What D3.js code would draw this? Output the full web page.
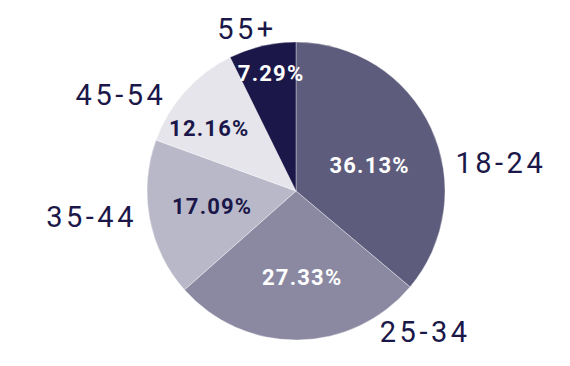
<!DOCTYPE html>
<meta charset="utf-8">
<style>
  body { margin: 0; background: #fff; font-family: Roboto, sans-serif; }
</style>
<body>
<script src="https://cdn.jsdelivr.net/npm/d3@7"></script>
<script>
  // age groups and their share of the total (percent)
  var categories = ["18-24", "25-34", "35-44", "45-54", "55+"];
  var shares = [36.13, 27.33, 17.09, 12.16, 7.29];
  var colors = ["#5e5c7c", "#8b89a2", "#b9b8c9", "#e6e5ec", "#1b1849"];
  var darkText = ["45-54", "35-44"]; // slices light enough to need dark % text

  var width = 570, height = 366;
  var cx = 296, cy = 191, R = 149;
  var navy = "#1b1849";

  // small tweaks (degrees / px) so labels sit where the original put them
  var outerNudge = { "18-24": 15, "25-34": -31, "35-44": 2, "45-54": -6, "55+": 5 };
  var pctNudge = { "18-24": [5, -8], "25-34": [-3, 0], "35-44": [1, 0], "45-54": [-6, 0], "55+": [1, 0] };

  var data = categories.map(function (c, i) { return { cat: c, value: shares[i], color: colors[i] }; });

  var svg = d3.select("body").append("svg")
    .attr("width", width)
    .attr("height", height);

  var g = svg.append("g").attr("transform", "translate(" + cx + "," + cy + ")");

  var pie = d3.pie().sort(null).value(function (d) { return d.value; });
  var arc = d3.arc().innerRadius(0).outerRadius(R);
  var arcs = pie(data);

  g.selectAll("path.slice")
    .data(arcs)
    .enter().append("path")
    .attr("class", "slice")
    .attr("d", arc)
    .attr("fill", function (d) { return d.data.color; })
    .attr("stroke", "rgba(255,255,255,0.45)")
    .attr("stroke-width", 0.8);

  // percent labels inside, pushed outward in thin slices so the text fits
  var pct = g.selectAll("text.pct")
    .data(arcs)
    .enter().append("text")
    .attr("class", "pct")
    .attr("text-anchor", "middle")
    .attr("dominant-baseline", "central")
    .style("font-size", "22px")
    .style("font-weight", "700")
    .style("letter-spacing", "1.2px")
    .attr("fill", function (d) { return darkText.indexOf(d.data.cat) >= 0 ? navy : "#fff"; })
    .text(function (d) { return d.data.value.toFixed(2) + "%"; });

  pct.each(function (d) {
    var w = this.getComputedTextLength();
    var nudge = pctNudge[d.data.cat];
    var mid = (d.startAngle + d.endAngle) / 2 + nudge[0] * Math.PI / 180;
    var half = (d.endAngle - d.startAngle) / 2;
    var r = (w / 2) / Math.sin(Math.min(half, Math.PI / 2));
    r = Math.max(0.575 * R, Math.min(0.815 * R, r)) + nudge[1];
    d3.select(this)
      .attr("x", Math.sin(mid) * r + 0.6)
      .attr("y", -Math.cos(mid) * r + 1);
  });

  // category labels outside the pie
  var outerR = R + 16;
  g.selectAll("text.cat")
    .data(arcs)
    .enter().append("text")
    .attr("class", "cat")
    .attr("dominant-baseline", "central")
    .style("font-size", "29px")
    .style("letter-spacing", "3.5px")
    .attr("fill", navy)
    .each(function (d) {
      var a = (d.startAngle + d.endAngle) / 2 + outerNudge[d.data.cat] * Math.PI / 180;
      var x = Math.sin(a) * outerR, y = -Math.cos(a) * outerR;
      d3.select(this)
        .attr("text-anchor", x >= 0 ? "start" : "end")
        .attr("x", x >= 0 ? x - 3 : x + 4)
        .attr("y", y + 1);
    })
    .text(function (d) { return d.data.cat; });
</script>
</body>
